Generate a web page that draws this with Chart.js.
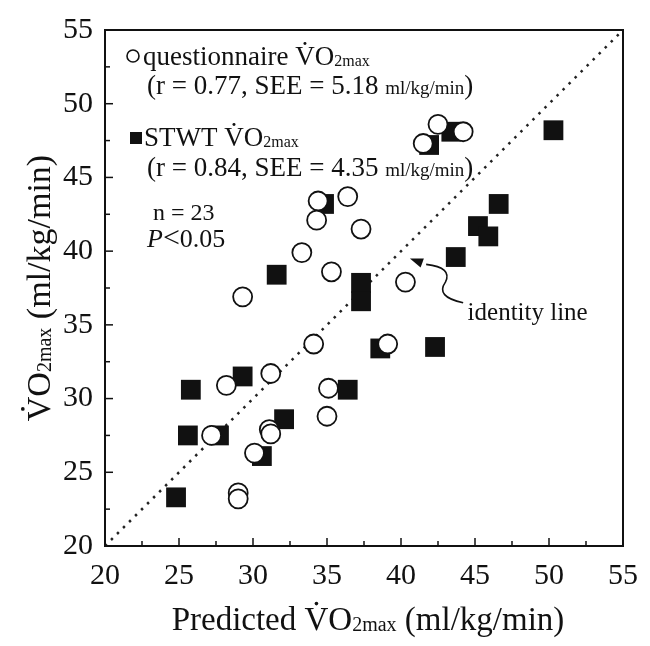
<!DOCTYPE html>
<html>
<head>
<meta charset="utf-8">
<script src="https://cdn.jsdelivr.net/npm/chart.js@4.4.1/dist/chart.umd.min.js"></script>
<style>
  html, body { margin: 0; padding: 0; background: #fff; }
  #wrap { width: 650px; height: 646px; }
</style>
</head>
<body>
<div id="wrap"><canvas id="grafico" width="650" height="646"></canvas></div>
<script>
// valores (ml/kg/min)
const questX = [42.5, 41.5, 44.2, 34.4, 36.4, 34.3, 37.3, 33.3, 35.3, 40.3, 29.3, 34.1, 39.1, 28.2, 31.2, 35.1, 35.0, 31.1, 31.2, 27.2, 30.1, 29.0, 29.0];
const questY = [48.6, 47.3, 48.1, 43.4, 43.7, 42.1, 41.5, 39.9, 38.6, 37.9, 36.9, 33.7, 33.7, 30.9, 31.7, 30.7, 28.8, 27.9, 27.6, 27.5, 26.3, 23.6, 23.2];

const stwtX = [50.3, 43.4, 41.9, 34.8, 46.6, 45.2, 45.9, 43.7, 31.6, 37.3, 37.3, 38.6, 42.3, 29.3, 25.8, 36.4, 32.1, 25.6, 27.7, 30.6, 24.8];
const stwtY = [48.2, 48.1, 47.2, 43.2, 43.2, 41.7, 41.0, 39.6, 38.4, 37.85, 36.6, 33.4, 33.5, 31.5, 30.6, 30.6, 28.6, 27.5, 27.5, 26.1, 23.3];

const identidade = [20, 55];
const eixoMin = 20, eixoMax = 55, passo = 5;

const serif = '"Liberation Serif", "Times New Roman", serif';
function fonte(px, italico) { return (italico ? 'italic ' : '') + px + 'px ' + serif; }

function larguraRica(ctx, partes) {
  let w = 0;
  partes.forEach(p => { ctx.font = fonte(p.s, p.i); w += ctx.measureText(p.t).width; });
  return w;
}

// desenha texto em pedaços (V com ponto, subscrito menor etc.)
function textoRico(ctx, x, y, partes) {
  partes.forEach(p => {
    ctx.font = fonte(p.s, p.i);
    const w = ctx.measureText(p.t).width;
    ctx.fillText(p.t, x, y + (p.dy || 0));
    if (p.ponto) {
      ctx.beginPath();
      ctx.arc(x + w * 0.5, y - p.s * 0.8, Math.max(1.3, p.s * 0.055), 0, Math.PI * 2);
      ctx.fill();
    }
    x += w;
  });
  return x;
}

function vo2(s, sub) {
  return [{ t: 'V', s: s, ponto: true }, { t: 'O', s: s }, { t: '2max', s: sub, dy: 1 }];
}

const anotacoes = {
  id: 'anotacoes',
  afterDatasetsDraw(chart) {
    const { ctx, chartArea: a, scales: { x, y } } = chart;
    ctx.save();
    ctx.strokeStyle = '#111';
    ctx.lineWidth = 2;
    ctx.strokeRect(a.left, a.top, a.right - a.left, a.bottom - a.top);

    // marcas internas dos eixos
    ctx.lineWidth = 1.5;
    for (let v = eixoMin + 2.5; v < eixoMax; v += 2.5) {
      const len = v % 5 === 0 ? 8 : 5;
      const px = x.getPixelForValue(v);
      ctx.beginPath(); ctx.moveTo(px, a.bottom); ctx.lineTo(px, a.bottom - len); ctx.stroke();
      const py = y.getPixelForValue(v);
      ctx.beginPath(); ctx.moveTo(a.left, py); ctx.lineTo(a.left + len, py); ctx.stroke();
    }
    ctx.restore();
  },
  afterDraw(chart) {
    const { ctx, chartArea: a, scales: { x, y } } = chart;
    ctx.save();
    ctx.fillStyle = '#111';
    ctx.strokeStyle = '#111';
    ctx.textAlign = 'left';
    ctx.textBaseline = 'alphabetic';

    // legenda dentro do gráfico
    ctx.lineWidth = 1.6;
    ctx.beginPath(); ctx.arc(a.left + 28, a.top + 26, 6, 0, Math.PI * 2); ctx.stroke();
    textoRico(ctx, a.left + 38, a.top + 35, [{ t: 'questionnaire ', s: 27 }].concat(vo2(27, 16)));
    textoRico(ctx, a.left + 42, a.top + 64, [{ t: '(r = 0.77, SEE = 5.18 ', s: 27 }, { t: 'ml/kg/min', s: 19 }, { t: ')', s: 27 }]);

    ctx.fillRect(a.left + 25, a.top + 102, 12, 12);
    textoRico(ctx, a.left + 39, a.top + 116, [{ t: 'STWT ', s: 27 }].concat(vo2(27, 16)));
    textoRico(ctx, a.left + 42, a.top + 146, [{ t: '(r = 0.84, SEE = 4.35 ', s: 27 }, { t: 'ml/kg/min', s: 19 }, { t: ')', s: 27 }]);

    textoRico(ctx, a.left + 48, a.top + 190, [{ t: 'n = 23', s: 24 }]);
    textoRico(ctx, a.left + 42, a.top + 217, [{ t: 'P', s: 26, i: true }, { t: '<', s: 30 }, { t: '0.05', s: 26 }]);

    // rótulo da linha de identidade com seta
    textoRico(ctx, x.getPixelForValue(44.5), y.getPixelForValue(35.3), [{ t: 'identity line', s: 25 }]);
    const p = (vx, vy) => [x.getPixelForValue(vx), y.getPixelForValue(vy)];
    const s0 = p(44.2, 36.5), c1 = p(42.3, 36.9), m = p(43.0, 37.9), c2 = p(43.5, 38.9), e = p(41.7, 39.1), tip = p(40.6, 39.5);
    ctx.lineWidth = 1.6;
    ctx.beginPath();
    ctx.moveTo(s0[0], s0[1]);
    ctx.quadraticCurveTo(c1[0], c1[1], m[0], m[1]);
    ctx.quadraticCurveTo(c2[0], c2[1], e[0], e[1]);
    ctx.stroke();
    const ang = Math.atan2(tip[1] - e[1], tip[0] - e[0]);
    ctx.beginPath();
    ctx.moveTo(tip[0], tip[1]);
    ctx.lineTo(tip[0] - 14 * Math.cos(ang - 0.35), tip[1] - 14 * Math.sin(ang - 0.35));
    ctx.lineTo(tip[0] - 14 * Math.cos(ang + 0.35), tip[1] - 14 * Math.sin(ang + 0.35));
    ctx.closePath();
    ctx.fill();

    // títulos dos eixos
    const tituloX = [{ t: 'Predicted ', s: 33 }].concat(vo2(33, 20), [{ t: ' (ml/kg/min)', s: 33 }]);
    const wx = larguraRica(ctx, tituloX);
    textoRico(ctx, (a.left + a.right) / 2 - wx / 2 + 4, 630, tituloX);

    const tituloY = vo2(34, 20).concat([{ t: ' (ml/kg/min)', s: 34 }]);
    const wy = larguraRica(ctx, tituloY);
    ctx.translate(38, (a.top + a.bottom) / 2);
    ctx.rotate(-Math.PI / 2);
    textoRico(ctx, -wy / 2, 12, tituloY);
    ctx.restore();
  }
};

const ticksFonte = { family: serif, size: 30 };

new Chart(document.getElementById('grafico'), {
  type: 'scatter',
  data: {
    datasets: [
      {
        label: 'questionnaire',
        data: questX.map((v, i) => ({ x: v, y: questY[i] })),
        pointStyle: 'circle',
        pointRadius: 9.5,
        pointBorderWidth: 1.8,
        borderColor: '#111',
        backgroundColor: '#fff'
      },
      {
        label: 'STWT',
        data: stwtX.map((v, i) => ({ x: v, y: stwtY[i] })),
        pointStyle: 'rect',
        pointRadius: 14,
        pointBorderWidth: 0,
        borderColor: '#111',
        backgroundColor: '#111'
      },
      {
        label: 'identity line',
        data: identidade.map(v => ({ x: v, y: v })),
        showLine: true,
        borderColor: '#222',
        borderWidth: 2.5,
        borderDash: [2.5, 6],
        pointRadius: 0
      }
    ]
  },
  options: {
    responsive: false,
    animation: false,
    layout: { padding: { top: 20, right: 13, left: 0, bottom: 0 } },
    plugins: { legend: { display: false }, tooltip: { enabled: false } },
    scales: {
      x: {
        type: 'linear',
        min: eixoMin, max: eixoMax,
        grid: { display: false, drawTicks: false },
        border: { display: false },
        ticks: { stepSize: passo, font: ticksFonte, color: '#111', padding: 12, maxRotation: 0 },
        afterFit(scale) { scale.height = 100; }
      },
      y: {
        type: 'linear',
        min: eixoMin, max: eixoMax,
        grid: { display: false, drawTicks: false },
        border: { display: false },
        ticks: { stepSize: passo, font: ticksFonte, color: '#111', padding: 12 },
        afterFit(scale) { scale.width = 105; }
      }
    }
  },
  plugins: [anotacoes]
});
</script>
</body>
</html>
